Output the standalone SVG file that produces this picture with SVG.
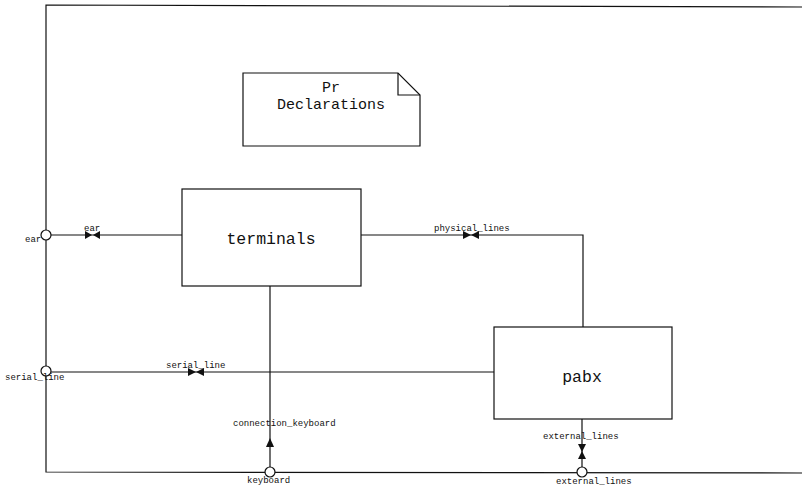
<svg xmlns="http://www.w3.org/2000/svg" width="802" height="489" viewBox="0 0 802 489">
  <defs>
    <style>
      .ln { fill: none; stroke: #111; stroke-width: 1.2; }
      .box { fill: #fff; stroke: #111; stroke-width: 1.2; }
      .port { fill: #fff; stroke: #111; stroke-width: 1.2; }
      .big { font-family: "Liberation Mono", "DejaVu Sans Mono", monospace; font-size: 16.5px; fill: #111; text-anchor: middle; }
      .note { font-size: 15px; }
      .sm { font-family: "Liberation Mono", "DejaVu Sans Mono", monospace; font-size: 9px; fill: #111; }
      .ah { fill: #111; stroke: none; }
    </style>
  </defs>

  <!-- system frame (open on the right) -->
  <path id="frame" class="ln" d="M802,7 L46,5 L46,472 L802,473"/>

  <!-- declarations note -->
  <g id="declarations">
    <path class="box" d="M243,73 L398,73 L420,95 L420,146 L243,146 Z"/>
    <path class="ln" d="M398,73 L398,95 L420,95"/>
    <text class="big note" x="331" y="92">Pr</text>
    <text class="big note" x="331" y="109">Declarations</text>
  </g>

  <!-- blocks -->
  <g id="terminals">
    <rect class="box" x="182" y="189" width="179" height="97"/>
    <text class="big" x="271" y="244">terminals</text>
  </g>
  <g id="pabx">
    <rect class="box" x="494" y="327" width="178" height="92"/>
    <text class="big" x="582" y="382">pabx</text>
  </g>

  <!-- channels -->
  <g id="connectors">
    <!-- ear -->
    <line class="ln" x1="51" y1="235" x2="182" y2="235"/>
    <polygon class="ah" points="85,231 92,235 85,239"/>
    <polygon class="ah" points="100,231 93,235 100,239"/>
    <text class="sm" x="84" y="231">ear</text>

    <!-- physical_lines -->
    <polyline class="ln" points="361,235 583,235 583,327"/>
    <polygon class="ah" points="463,231 471,235 463,239"/>
    <polygon class="ah" points="479,231 471,235 479,239"/>
    <text class="sm" x="434" y="231">physical_lines</text>

    <!-- serial_line -->
    <line class="ln" x1="51" y1="372" x2="494" y2="372"/>
    <polygon class="ah" points="188,368 196,372 188,376"/>
    <polygon class="ah" points="204,368 196,372 204,376"/>
    <text class="sm" x="166" y="368">serial_line</text>

    <!-- connection_keyboard -->
    <line class="ln" x1="270" y1="286" x2="270" y2="467"/>
    <polygon class="ah" points="266,447 270,438 274,447"/>
    <text class="sm" x="233" y="426">connection_keyboard</text>

    <!-- external_lines -->
    <line class="ln" x1="582" y1="419" x2="582" y2="467"/>
    <polygon class="ah" points="578,444 586,444 582,452"/>
    <polygon class="ah" points="578,459 586,459 582,451"/>
    <text class="sm" x="543" y="439">external_lines</text>
  </g>

  <!-- frame ports -->
  <g id="port-ear">
    <circle class="port" cx="46" cy="235" r="5"/>
    <text class="sm" x="25" y="242">ear</text>
  </g>
  <g id="port-serial_line">
    <circle class="port" cx="46" cy="371" r="5"/>
    <text class="sm" x="5" y="380">serial_line</text>
  </g>
  <g id="port-keyboard">
    <circle class="port" cx="270" cy="472" r="5"/>
    <text class="sm" x="247" y="483">keyboard</text>
  </g>
  <g id="port-external_lines">
    <circle class="port" cx="582" cy="472" r="5"/>
    <text class="sm" x="556" y="484">external_lines</text>
  </g>
</svg>
